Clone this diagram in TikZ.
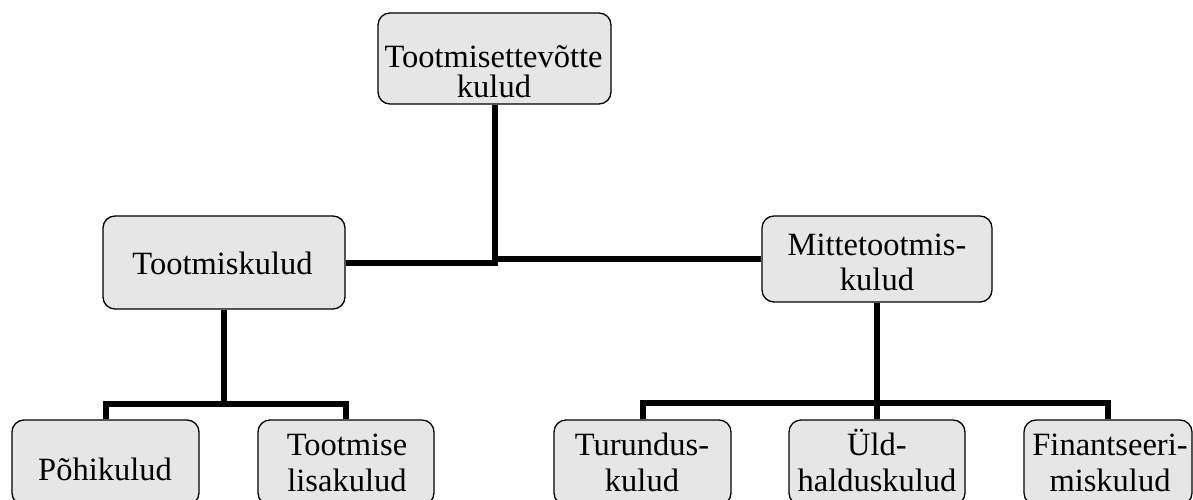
\documentclass[tikz,border=0pt]{standalone}
\usepackage{fontspec}
\setmainfont{Liberation Serif}
\definecolor{boxgray}{HTML}{E6E6E6}
\begin{document}
\begin{tikzpicture}[x=1pt,y=-1pt,
  box/.style={draw=black, line width=1.3pt, rounded corners=12pt, fill=boxgray, inner sep=0pt},
  conn/.style={draw=black, line width=6pt, line join=miter},
  lbl/.style={anchor=base, inner sep=0pt, font=\fontsize{32.5}{35}\selectfont}]
\useasboundingbox (0,0) rectangle (1193,500);
\clip (0,0) rectangle (1193,500);
% boxes
\node[box, minimum width=233pt, minimum height=91pt] (top) at (494.5,58.5) {};
\node[box, minimum width=242pt, minimum height=93pt] (tk) at (224,262.5) {};
\node[box, minimum width=230pt, minimum height=86pt] (mt) at (877,259) {};
\node[box, minimum width=187pt, minimum height=85pt] (p) at (105.5,462.5) {};
\node[box, minimum width=176pt, minimum height=85pt] (tl) at (346,462.5) {};
\node[box, minimum width=177pt, minimum height=85pt] (tu) at (642.5,462.5) {};
\node[box, minimum width=176pt, minimum height=85pt] (u) at (877,462.5) {};
\node[box, minimum width=168pt, minimum height=85pt] (fi) at (1108,462.5) {};
% texts
\node[lbl] (top1) at (493.5,68) {Tootmisettevõtte};
\node[lbl] (top2) at (494,97.5) {kulud};
\node[lbl] (tk1) at (222.5,274) {Tootmiskulud};
\node[lbl] (mt1) at (877,255) {Mittetootmis-};
\node[lbl] (mt2) at (877,290) {kulud};
\node[lbl] (p1) at (105,480) {Põhikulud};
\node[lbl] (tl1) at (347,455) {Tootmise};
\node[lbl] (tl2) at (347,491) {lisakulud};
\node[lbl] (tu1) at (642,455) {Turundus-};
\node[lbl] (tu2) at (642,491) {kulud};
\node[lbl] (u1) at (877,455) {Üld-};
\node[lbl] (u2) at (877,491) {halduskulud};
\node[lbl] (fi1) at (1110,455) {Finantseeri-};
\node[lbl] (fi2) at (1110,491) {miskulud};
% connectors
\coordinate (busL) at (0,403.5);
\coordinate (busR) at (0,403);
\draw[conn] (top.south) -- (top.south |- tk.east) -- (tk.east);
\draw[conn] (top.south |- mt.west) -- (mt.west);
\draw[conn] (tk.south) -- (tk.south |- busL);
\draw[conn] (p.north) -- (p.north |- busL) -- (tl.north |- busL) -- (tl.north);
\draw[conn] (mt.south) -- (u.north);
\draw[conn] (tu.north) -- (tu.north |- busR) -- (fi.north |- busR) -- (fi.north);
\end{tikzpicture}
\end{document}
